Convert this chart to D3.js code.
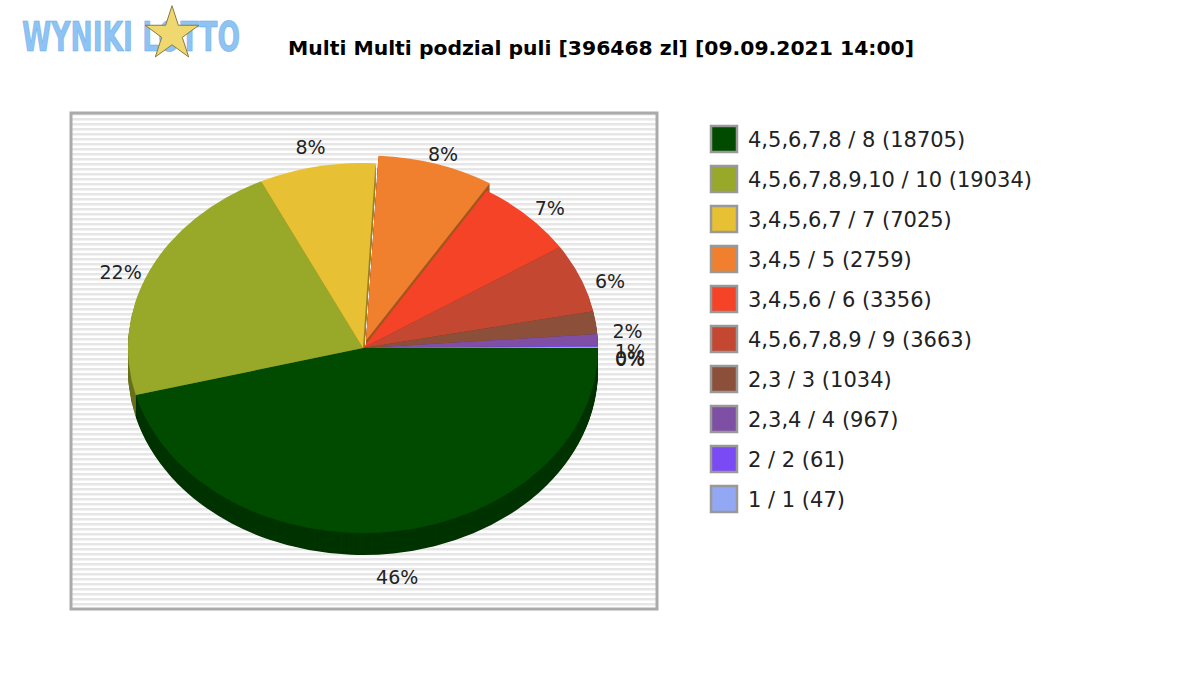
<!DOCTYPE html>
<html><head><meta charset="utf-8">
<script src="https://cdn.jsdelivr.net/npm/d3@7"></script>
<style>body{margin:0;background:#fff}</style></head>
<body><svg id="c" width="1200" height="680"></svg>
<script>
const labels = ["4,5,6,7,8 / 8 (18705)","4,5,6,7,8,9,10 / 10 (19034)","3,4,5,6,7 / 7 (7025)","3,4,5 / 5 (2759)","3,4,5,6 / 6 (3356)","4,5,6,7,8,9 / 9 (3663)","2,3 / 3 (1034)","2,3,4 / 4 (967)","2 / 2 (61)","1 / 1 (47)"];
const shares = [46, 22, 8, 8, 7, 6, 2, 1, 0.1, 0.1];
const pctLabels = ["46%","22%","8%","8%","7%","6%","2%","1%","0%","0%"];
const colors = ["#004b00","#98a828","#e8c033","#f07f2e","#f44326","#c34731","#8b4f3a","#7f4fa6","#7a4af5","#92a8f5"];
const exploded = [false,false,false,true,false,false,false,false,false,false];

const svg = d3.select("#c");
const lg = svg.append("g");
lg.append("text").attr("x",22).attr("y",51).attr("font-family","DejaVu Sans Condensed, DejaVu Sans").attr("font-weight","bold")
  .attr("font-size",40).attr("fill","#8ec4f4").attr("stroke","#6aaae8").attr("stroke-width",0.6)
  .attr("textLength",218).attr("lengthAdjust","spacingAndGlyphs").text("WYNIKI LOTTO");
const star = d3.symbol().type(d3.symbolStar).size(900)();
lg.append("path").attr("d",star).attr("transform","translate(172,34)").attr("fill","#f0d870").attr("stroke","#8a7a40");
svg.append("text").attr("x",601).attr("y",55).attr("text-anchor","middle").attr("font-family","DejaVu Sans")
  .attr("font-weight","bold").attr("font-size",20).attr("textLength",626).attr("lengthAdjust","spacingAndGlyphs")
  .text("Multi Multi podzial puli [396468 zl] [09.09.2021 14:00]");
const bx=71, by=113, bw=586, bh=496;
const stripes = d3.range(by, by+bh, 5);
svg.append("rect").attr("x",bx).attr("y",by).attr("width",bw).attr("height",bh).attr("fill","#fff");
svg.selectAll(".st").data(stripes).enter().append("rect").attr("x",bx).attr("y",d=>d).attr("width",bw)
  .attr("height",d=>Math.min(2.5, by+bh-d)).attr("fill","#e6e6e6");
svg.append("rect").attr("x",bx).attr("y",by).attr("width",bw).attr("height",bh).attr("fill","none").attr("stroke","#aaa").attr("stroke-width",3);

const cx=363, cy=348, rx=235, ry=185, depth=22, expl=10;
const pie = d3.pie().sort(null).startAngle(Math.PI/2).endAngle(Math.PI/2+2*Math.PI)(shares);
const arc = d3.arc().innerRadius(0).outerRadius(rx);
const off = d => {
  if(!exploded[d.index]) return [0,0];
  const m=(d.startAngle+d.endAngle)/2; return [Math.sin(m)*expl, -Math.cos(m)*expl*ry/rx];
};
const g = svg.append("g");
for(let k=depth;k>=1;k--){
  g.append("g").selectAll("path").data(pie).enter().append("path")
   .attr("transform",d=>{const o=off(d);return `translate(${cx+o[0]},${cy+k+o[1]}) scale(1,${ry/rx})`;})
   .attr("d",arc).attr("fill",(d,i)=>d3.color(colors[i]).darker(1.1));
}
g.append("g").selectAll("path").data(pie).enter().append("path")
  .attr("transform",d=>{const o=off(d);return `translate(${cx+o[0]},${cy+o[1]}) scale(1,${ry/rx})`;})
  .attr("d",arc).attr("fill",(d,i)=>colors[i]);
svg.append("g").selectAll("text").data(pie).enter().append("text")
  .attr("x",d=>{const m=(d.startAngle+d.endAngle)/2;return cx+Math.sin(m)*(rx+32);})
  .attr("y",d=>{const m=(d.startAngle+d.endAngle)/2;const s=-Math.cos(m);
     return cy+s*(ry+22)+(s>0?depth*s:0)+7+(exploded[d.index]?4:12*Math.abs(Math.sin(m)));})
  .attr("text-anchor","middle").attr("font-family","DejaVu Sans").attr("font-size",19).attr("fill","#222")
  .text((d,i)=>pctLabels[i]);
const leg = svg.append("g").selectAll("g").data(labels).enter().append("g")
  .attr("transform",(d,i)=>`translate(710,${125+i*40})`);
leg.append("rect").attr("x",1).attr("y",1).attr("width",26).attr("height",26).attr("fill",(d,i)=>colors[i]).attr("stroke","#999").attr("stroke-width",2.5);
leg.append("text").attr("x",38).attr("y",22).attr("font-family","DejaVu Sans").attr("font-size",21).attr("fill","#222").text(d=>d);
</script></body></html>
